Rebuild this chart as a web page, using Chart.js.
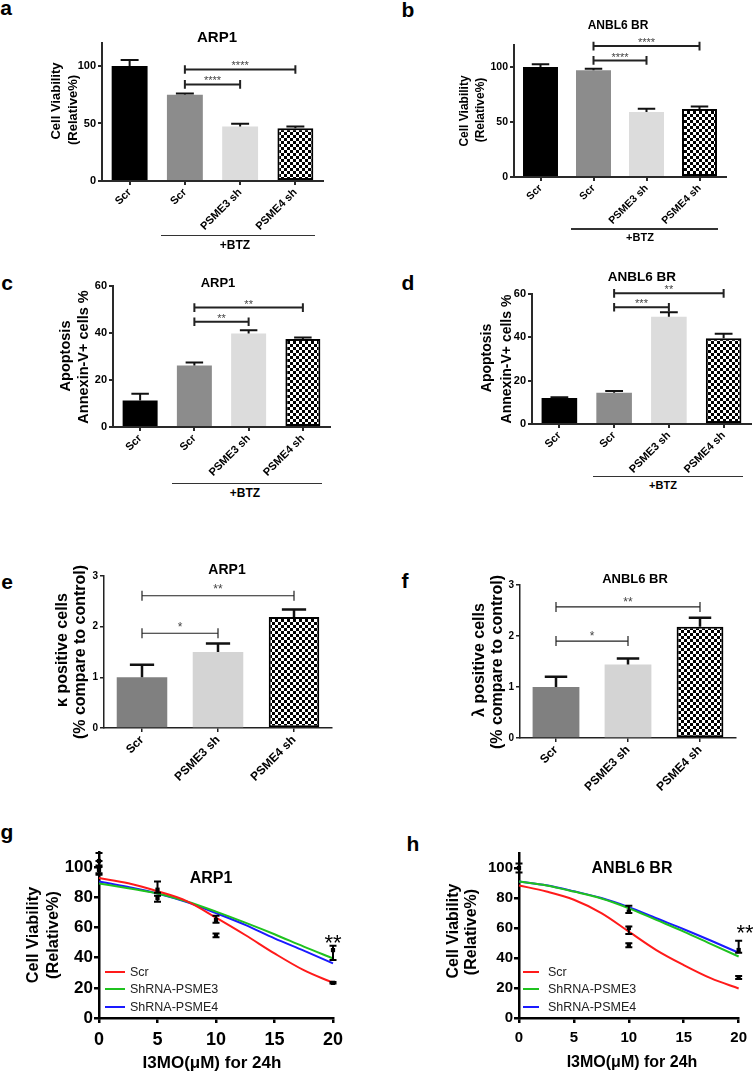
<!DOCTYPE html>
<html><head><meta charset="utf-8">
<script src="https://cdn.jsdelivr.net/npm/chart.js@4.4.1/dist/chart.umd.min.js"></script>
<style>
html,body{margin:0;padding:0;background:#fff;overflow:hidden;width:753px;height:1071px;}
body{position:relative;font-family:'Liberation Sans',Arial,sans-serif;color:#000;}
canvas{position:absolute;}
.t{position:absolute;transform:translate(-50%,-50%);white-space:nowrap;line-height:1;}
.v{position:absolute;transform:translate(-50%,-50%) rotate(-90deg);white-space:nowrap;line-height:1;font-weight:bold;}
.hl{position:absolute;}
</style></head><body>
<script>
// ---------- DATA ----------
const catsBTZ = ['Scr', 'Scr', 'PSME3 sh', 'PSME4 sh'];
const catsSh = ['Scr', 'PSME3 sh', 'PSME4 sh'];

const viabArp1 = [100, 75, 47.3, 45.9];
const viabArp1Err = [5.2, 1.1, 2.4, 1.4];
const viabAnbl = [100, 97, 59, 61.8];
const viabAnblErr = [2.5, 1.5, 3, 2.4];

const apopArp1 = [11.3, 26.2, 39.8, 37.4];
const apopArp1Err = [2.9, 1.3, 1.4, 0.7];
const apopAnbl = [12, 14.4, 49.5, 39.6];
const apopAnblErr = [0.4, 0.8, 2.1, 2.0];

const kappaArp1 = [1.0, 1.5, 2.19];
const kappaArp1Err = [0.25, 0.17, 0.15];
const lambdaAnbl = [1.0, 1.44, 2.18];
const lambdaAnblErr = [0.2, 0.12, 0.18];

// tick labels
const ticksViab = [0, 50, 100];
const ticksApop = [0, 20, 40, 60];
const ticksFold = [0, 1, 2, 3];
const ticksDoseY = [0, 20, 40, 60, 80, 100];
const ticksDoseX = [0, 5, 10, 15, 20];

// significance brackets: [from, to, height, label]
const sigA = [[1, 2, 84, '****'], [1, 3, 97, '****']];
const sigB = [[1, 2, 106, '****'], [1, 3, 119, '****']];
const sigC = [[1, 2, 44.8, '**'], [1, 3, 50.8, '**']];
const sigD = [[1, 2, 53.9, '***'], [1, 3, 60.3, '**']];
const sigE = [[0, 1, 1.87, '*'], [0, 2, 2.61, '**']];
const sigF = [[0, 1, 1.9, '*'], [0, 2, 2.57, '**']];

// dose-response curves (I3MO, µM)
const doseX = [0, 2.5, 5, 7.5, 10, 12.5, 15, 17.5, 20];
const gScr = [92.7, 89.3, 84, 77.5, 66.5, 55, 42.8, 31.7, 23.3];
const gPSME3 = [89.2, 86, 82.5, 77.2, 70.5, 63.2, 55.5, 47.3, 39.5];
const gPSME4 = [90.5, 86.8, 82.5, 76.8, 69.5, 61.7, 52.8, 44.6, 36.2];
const hScr = [88.4, 84.3, 78.8, 69.9, 57.6, 45.3, 35.3, 26.4, 19.7];
const hPSME3 = [91, 88.4, 84.3, 79.7, 73.2, 65.4, 57.6, 49.3, 41];
const hPSME4 = [91, 88.5, 84.5, 80, 73.9, 66.5, 59.2, 51.5, 43.5];

// measured points with error bars: x, y, low, high
const gPtX = [0, 0, 0, 5, 5, 10, 10, 20, 20];
const gPtY = [100, 104, 98, 85, 79.5, 65, 54.5, 45, 23.3];
const gPtLo = [96, 100, 95, 83, 77, 63.2, 53.5, 38.4, 22.8];
const gPtHi = [104, 109.4, 101, 90.5, 81, 67.7, 56, 47.9, 23.8];
const hPtX = [0, 10, 10, 10, 20, 20];
const hPtY = [100, 71, 60, 48.7, 45.3, 27];
const hPtLo = [97, 70, 56, 47.1, 43.5, 26];
const hPtHi = [103, 74.8, 61, 49.8, 51.5, 28];

const seriesNames = ['Scr', 'ShRNA-PSME3', 'ShRNA-PSME4'];
const seriesColors = ['#ff1a1a', '#1fc21f', '#1a1aff'];

// ---------- HELPERS ----------
const FF = "'Liberation Sans', Arial, sans-serif";
Chart.defaults.font.family = FF;
Chart.defaults.color = '#000';

function mkCanvas(b) {
  const cv = document.createElement('canvas');
  cv.width = b.w; cv.height = b.h;
  cv.style.left = b.l + 'px'; cv.style.top = b.t + 'px';
  cv.style.width = b.w + 'px'; cv.style.height = b.h + 'px';
  document.body.appendChild(cv);
  return cv;
}
function T(x, y, s, fs, fw, extra) {
  const d = document.createElement('div');
  d.className = 't';
  d.textContent = s;
  d.style.left = x + 'px'; d.style.top = y + 'px';
  d.style.fontSize = fs + 'px'; d.style.fontWeight = fw || 'bold';
  if (extra) Object.assign(d.style, extra);
  document.body.appendChild(d);
  return d;
}
function V(x, y, s, fs) {
  const d = document.createElement('div');
  d.className = 'v';
  d.textContent = s;
  d.style.left = x + 'px'; d.style.top = y + 'px';
  d.style.fontSize = fs + 'px';
  document.body.appendChild(d);
}
function HL(x1, x2, y, w, col) {
  const d = document.createElement('div');
  d.className = 'hl';
  d.style.left = x1 + 'px'; d.style.top = (y - w / 2) + 'px';
  d.style.width = (x2 - x1) + 'px'; d.style.height = w + 'px';
  d.style.background = col;
  document.body.appendChild(d);
}
const setTicks = arr => s => { s.ticks = arr.map(v => ({ value: v })); };

const tile = (() => {
  const c = document.createElement('canvas'); c.width = c.height = 6;
  const x = c.getContext('2d');
  x.fillStyle = '#fff'; x.fillRect(0, 0, 6, 6);
  x.fillStyle = '#000'; x.fillRect(0, 0, 3, 3); x.fillRect(3, 3, 3, 3);
  return c;
})();

function barPanel(p) {
  const cv = mkCanvas(p.box);
  const pat = cv.getContext('2d').createPattern(tile, 'repeat');
  const bg = p.colors.map(c => c === 'check' ? pat : c);
  const bw = p.colors.map(c => c === 'check' ? p.checkBorder : 0);
  const axisCol = p.axisCol || '#2a2a2a';
  const errPl = {
    id: 'err_' + p.id,
    afterDatasetsDraw(chart) {
      const ctx = chart.ctx, ys = chart.scales.y, meta = chart.getDatasetMeta(0);
      ctx.save();
      ctx.strokeStyle = '#111'; ctx.lineWidth = p.errLw;
      meta.data.forEach((el, i) => {
        const y0 = ys.getPixelForValue(p.vals[i]);
        const y1 = ys.getPixelForValue(p.vals[i] + p.errs[i]);
        const hw = el.width * p.capFrac / 2;
        ctx.beginPath();
        ctx.moveTo(el.x, y0); ctx.lineTo(el.x, y1);
        ctx.moveTo(el.x - hw, y1); ctx.lineTo(el.x + hw, y1);
        ctx.stroke();
      });
      p.sig.forEach(s => {
        const xa = meta.data[s[0]].x, xb = meta.data[s[1]].x, y = ys.getPixelForValue(s[2]);
        ctx.strokeStyle = '#222'; ctx.lineWidth = p.brLw;
        ctx.beginPath();
        ctx.moveTo(xa, y); ctx.lineTo(xb, y);
        ctx.moveTo(xa, y - p.brTick); ctx.lineTo(xa, y + p.brTick);
        ctx.moveTo(xb, y - p.brTick); ctx.lineTo(xb, y + p.brTick);
        ctx.stroke();
        ctx.fillStyle = '#444'; ctx.font = p.starFs + 'px ' + FF;
        ctx.textAlign = 'center'; ctx.textBaseline = 'alphabetic';
        ctx.fillText(s[3], (xa + xb) / 2, y - p.starGap + 0.56 * p.starFs);
      });
      ctx.restore();
    }
  };
  new Chart(cv, {
    type: 'bar',
    data: {
      labels: p.cats,
      datasets: [{
        data: p.vals, backgroundColor: bg, borderColor: '#000', borderWidth: bw,
        borderSkipped: false, barPercentage: p.barPct, categoryPercentage: 1
      }]
    },
    options: {
      responsive: false, animation: false, devicePixelRatio: 1,
      layout: { autoPadding: false, padding: { left: 0, top: p.plot.t - p.box.t, right: p.box.l + p.box.w - p.plot.r, bottom: 0 } },
      plugins: { legend: { display: false }, tooltip: { enabled: false } },
      scales: {
        x: {
          grid: { drawOnChartArea: false, offset: false, tickLength: 4, color: axisCol, lineWidth: p.lw },
          border: { color: axisCol, width: p.lw },
          ticks: { font: { size: p.xfs, weight: 'bold' }, color: '#000', minRotation: 45, maxRotation: 45, padding: 1, autoSkip: false },
          afterFit: s => { s.height = p.box.t + p.box.h - p.plot.b; }
        },
        y: {
          min: 0, max: p.ymax,
          grid: { drawOnChartArea: false, tickLength: 4, color: axisCol, lineWidth: p.lw },
          border: { color: axisCol, width: p.lw },
          ticks: { font: { size: p.yfs, weight: 'bold' }, color: '#000', padding: 2 },
          afterBuildTicks: setTicks(p.yticks),
          afterFit: s => { s.width = p.plot.l - p.box.l; }
        }
      }
    },
    plugins: [errPl]
  });
}

function curvePanel(p) {
  const cv = mkCanvas(p.box);
  const lineDs = p.series.map((s, k) => ({
    data: doseX.map((x, i) => ({ x: x, y: s[i] })),
    borderColor: seriesColors[k], borderWidth: 2, pointRadius: 0,
    cubicInterpolationMode: 'monotone', fill: false, clip: false, order: 1
  }));
  const ptDs = {
    data: p.ptX.map((x, i) => ({ x: x, y: p.ptY[i] })),
    showLine: false, pointStyle: 'rect', pointRadius: 3, backgroundColor: '#000',
    borderColor: '#000', borderWidth: 0, clip: false, order: 0
  };
  const errPl = {
    id: 'perr_' + p.id,
    afterDatasetsDraw(chart) {
      const ctx = chart.ctx, xs = chart.scales.x, ys = chart.scales.y;
      ctx.save();
      ctx.strokeStyle = '#000'; ctx.lineWidth = 2;
      p.ptX.forEach((x, i) => {
        const px = xs.getPixelForValue(x);
        const yl = ys.getPixelForValue(p.ptLo[i]), yh = ys.getPixelForValue(p.ptHi[i]);
        ctx.beginPath();
        ctx.moveTo(px, yl); ctx.lineTo(px, yh);
        ctx.moveTo(px - 3.5, yl); ctx.lineTo(px + 3.5, yl);
        ctx.moveTo(px - 3.5, yh); ctx.lineTo(px + 3.5, yh);
        ctx.stroke();
      });
      ctx.restore();
    }
  };
  new Chart(cv, {
    type: 'line',
    data: { datasets: lineDs.concat([ptDs]) },
    options: {
      responsive: false, animation: false, devicePixelRatio: 1,
      layout: { autoPadding: false, padding: { left: 0, top: p.plot.t - p.box.t, right: p.box.l + p.box.w - p.plot.r, bottom: 0 } },
      plugins: { legend: { display: false }, tooltip: { enabled: false } },
      scales: {
        x: {
          type: 'linear', min: 0, max: 20,
          grid: { drawOnChartArea: false, tickLength: 5, color: '#000', lineWidth: 2.5 },
          border: { color: '#000', width: 2.5 },
          ticks: { font: { size: p.xfs, weight: 'bold' }, color: '#000', maxRotation: 0, padding: 6 },
          afterBuildTicks: setTicks(ticksDoseX),
          afterFit: s => { s.height = p.box.t + p.box.h - p.plot.b; }
        },
        y: {
          min: 0, max: 110,
          grid: { drawOnChartArea: false, tickLength: 5, color: '#000', lineWidth: 2.5 },
          border: { color: '#000', width: 2.5 },
          ticks: { font: { size: p.yfs, weight: 'bold' }, color: '#000', padding: 1 },
          afterBuildTicks: setTicks(ticksDoseY),
          afterFit: s => { s.width = p.plot.l - p.box.l; }
        }
      }
    },
    plugins: [errPl]
  });
}

// ---------- PANELS ----------
const common4 = { cats: catsBTZ, colors: ['#000000', '#8c8c8c', '#dcdcdc', 'check'], checkBorder: 2, lw: 2, errLw: 2, capFrac: 0.5, brLw: 2, brTick: 4.3, starFs: 11 };

barPanel(Object.assign({}, common4, { id: 'a', box: { l: 20, t: 30, w: 330, h: 203 }, plot: { l: 102, t: 43, r: 323, b: 181 },
  vals: viabArp1, errs: viabArp1Err, sig: sigA, ymax: 120, yticks: ticksViab, yfs: 11, xfs: 11, barPct: 0.65, starGap: 6.7 }));
barPanel(Object.assign({}, common4, { id: 'b', box: { l: 420, t: 30, w: 333, h: 198 }, plot: { l: 514, t: 45, r: 726, b: 177 },
  vals: viabAnbl, errs: viabAnblErr, sig: sigB, ymax: 120, yticks: ticksViab, yfs: 10.5, xfs: 10.5, barPct: 0.66, starGap: 6 }));
barPanel(Object.assign({}, common4, { id: 'c', box: { l: 20, t: 260, w: 330, h: 220 }, plot: { l: 113, t: 286, r: 330, b: 427 },
  vals: apopArp1, errs: apopArp1Err, sig: sigC, ymax: 60, yticks: ticksApop, yfs: 11, xfs: 11, barPct: 0.645, starGap: 6 }));
barPanel(Object.assign({}, common4, { id: 'd', box: { l: 420, t: 260, w: 333, h: 215 }, plot: { l: 532, t: 294, r: 751, b: 424 },
  vals: apopAnbl, errs: apopAnblErr, sig: sigD, ymax: 60, yticks: ticksApop, yfs: 11, xfs: 11, barPct: 0.65, starGap: 6.5 }));

const common3 = { cats: catsSh, colors: ['#808080', '#d4d4d4', 'check'], checkBorder: 2, lw: 1.5, errLw: 2.5, capFrac: 0.48, brLw: 1.2, brTick: 5, starFs: 12, axisCol: '#222' };
barPanel(Object.assign({}, common3, { id: 'e', box: { l: 20, t: 550, w: 330, h: 240 }, plot: { l: 104, t: 576, r: 332, b: 728 },
  vals: kappaArp1, errs: kappaArp1Err, sig: sigE, ymax: 3, yticks: ticksFold, yfs: 10, xfs: 12, barPct: 0.665, starGap: 9 }));
barPanel(Object.assign({}, common3, { id: 'f', box: { l: 420, t: 555, w: 333, h: 245 }, plot: { l: 520, t: 585, r: 736, b: 738 },
  vals: lambdaAnbl, errs: lambdaAnblErr, sig: sigF, ymax: 3, yticks: ticksFold, yfs: 10, xfs: 12, barPct: 0.65, starGap: 7.5 }));

curvePanel({ id: 'g', box: { l: 20, t: 840, w: 330, h: 231 }, plot: { l: 99, t: 852, r: 333, b: 1018 },
  series: [gScr, gPSME3, gPSME4], ptX: gPtX, ptY: gPtY, ptLo: gPtLo, ptHi: gPtHi, xfs: 18, yfs: 17 });
curvePanel({ id: 'h', box: { l: 420, t: 840, w: 333, h: 231 }, plot: { l: 519, t: 853, r: 744, b: 1018 },
  series: [hScr, hPSME3, hPSME4], ptX: hPtX, ptY: hPtY, ptLo: hPtLo, ptHi: hPtHi, xfs: 15, yfs: 15 });

// ---------- TEXT ----------
// panel letters
T(6, 7, 'a', 21); T(408, 8.5, 'b', 21); T(7, 282, 'c', 21); T(408, 282, 'd', 21);
T(7, 581, 'e', 21); T(405, 580, 'f', 21); T(7, 830.7, 'g', 21); T(413, 842.5, 'h', 21);
// titles
T(217, 36, 'ARP1', 15); T(618, 25, 'ANBL6 BR', 12);
T(218, 282, 'ARP1', 13); T(642, 277, 'ANBL6 BR', 13.5);
T(227, 569, 'ARP1', 14); T(635, 578, 'ANBL6 BR', 13);
T(211, 878, 'ARP1', 16); T(632, 868, 'ANBL6 BR', 16);
// y-axis titles
V(55, 101, 'Cell Viability', 13); V(72, 110, '(Relative%)', 13);
V(464, 111, 'Cell Viability', 12); V(480, 110, '(Relative%)', 12);
V(65, 356, 'Apoptosis', 14.5); V(83, 357, 'Annexin-V+ cells %', 14.5);
V(486, 358, 'Apoptosis', 14); V(506, 359, 'Annexin-V+ cells %', 14);
V(62, 650, 'κ positive cells', 16); V(80, 652, '(% compare to control)', 16);
V(478.5, 660, 'λ positive cells', 16); V(497, 662, '(% compare to control)', 16);
V(32, 935, 'Cell Viability', 16.3); V(52, 935, '(Relative%)', 16.3);
V(453, 931, 'Cell Viability', 16); V(471, 932, '(Relative%)', 16);
// +BTZ groups
HL(161, 315, 235.7, 1.5, '#333'); T(235, 245, '+BTZ', 12);
HL(571, 718, 229, 1.5, '#333'); T(640, 237, '+BTZ', 11);
HL(172, 322, 483.3, 1.5, '#333'); T(245, 493, '+BTZ', 12);
HL(593, 743, 476.7, 1.5, '#333'); T(663, 485, '+BTZ', 11);
// x titles of dose-response panels
T(212, 1062, 'I3MO(μM) for 24h', 17); T(632, 1062, 'I3MO(μM) for 24h', 16);
// significance on dose-response panels
T(333, 942.6, '**', 22, 'normal'); T(745, 932.6, '**', 22, 'normal');
// legends
const legG = [971.5, 989, 1006.5], legH = [972, 988.5, 1007];
seriesNames.forEach((n, k) => {
  HL(105, 125, legG[k], 2, seriesColors[k]);
  T(130, legG[k], n, 12.5, 'normal', { transform: 'translate(0,-50%)', color: '#222' });
  HL(523, 539, legH[k], 2, seriesColors[k]);
  T(548, legH[k], n, 12.5, 'normal', { transform: 'translate(0,-50%)', color: '#222' });
});
</script>
</body></html>
